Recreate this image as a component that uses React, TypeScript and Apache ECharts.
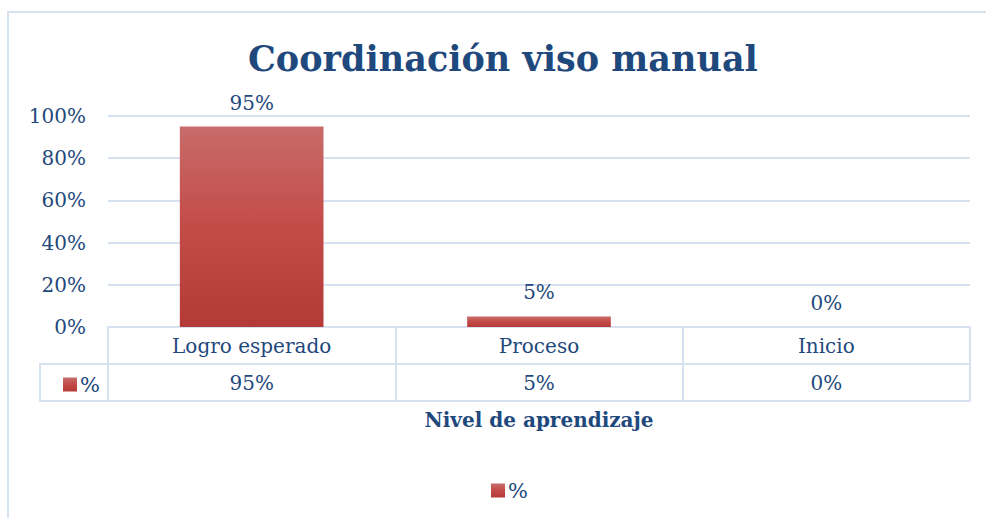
import React, { useEffect, useRef } from "react";
import * as echarts from "echarts";

const titleText = "Coordinación viso manual";
const categories = ["Logro esperado", "Proceso", "Inicio"];
const seriesName = "%";
const values = [0.95, 0.05, 0];
const axisName = "Nivel de aprendizaje";

const FONT = "DejaVu Serif";
const TEXT = "#1F497D";
const LINE = "#D7E2F1";

export default function App() {
  const ref = useRef<HTMLDivElement>(null);
  useEffect(() => {
    const chart = echarts.init(ref.current!, null, { renderer: "svg" });
    const pct = (v: number) => `${Math.round(v * 100)}%`;
    const barColor = new echarts.graphic.LinearGradient(0, 0, 0, 1, [
      { offset: 0, color: "#C86C6A" },
      { offset: 0.5, color: "#C34B48" },
      { offset: 1, color: "#B33A37" },
    ]);
    chart.setOption({
      animation: false,
      backgroundColor: "#ffffff",
      textStyle: { fontFamily: FONT, color: TEXT },
      title: {
        text: titleText,
        left: 243,
        top: 36,
        textStyle: { fontFamily: FONT, fontSize: 35, fontWeight: "bold", color: TEXT },
      },
      legend: [
        {
          data: [seriesName],
          left: 486,
          top: 475,
          icon: "rect",
          itemWidth: 14,
          itemHeight: 14,
          itemGap: 4,
          textStyle: { fontFamily: FONT, fontSize: 21, color: TEXT, padding: [0, 0, 0, -2] },
        },
        {
          data: [seriesName],
          left: 58,
          top: 369,
          icon: "rect",
          itemWidth: 14,
          itemHeight: 14,
          textStyle: { fontFamily: FONT, fontSize: 21, color: TEXT, padding: [0, 0, 0, -2] },
        },
      ],
      grid: { left: 108, right: 16, top: 116, bottom: 191, containLabel: false },
      xAxis: {
        type: "category",
        data: categories,
        name: axisName,
        nameLocation: "middle",
        nameGap: 83,
        nameTextStyle: { fontFamily: FONT, fontSize: 20, fontWeight: "bold", color: TEXT },
        axisLine: { show: true, lineStyle: { color: LINE, width: 2 } },
        axisTick: { show: true, alignWithLabel: false, length: 74, lineStyle: { color: LINE, width: 2 } },
        axisLabel: {
          margin: 0,
          verticalAlign: "top",
          formatter: (name: string) => {
            const i = categories.indexOf(name);
            return `{a|${name}}\n{a|${pct(values[i])}}`;
          },
          rich: {
            a: { fontFamily: FONT, fontSize: 20, color: TEXT, lineHeight: 37, height: 37 },
          },
        },
      },
      yAxis: {
        type: "value",
        min: 0,
        max: 1,
        interval: 0.2,
        axisLine: { show: false },
        axisTick: { show: false },
        axisLabel: {
          margin: 22,
          fontFamily: FONT,
          fontSize: 20,
          color: TEXT,
          formatter: (v: number) => pct(v),
        },
        splitLine: { lineStyle: { color: LINE, width: 2 } },
      },
      series: [
        {
          name: seriesName,
          type: "bar",
          data: values,
          barWidth: "50%",
          itemStyle: { color: barColor },
          label: {
            show: true,
            position: "top",
            distance: 14,
            fontFamily: FONT,
            fontSize: 20,
            color: TEXT,
            formatter: (p: any) => pct(p.value),
          },
        },
      ],
      graphic: [
        {
          type: "rect",
          shape: { x: 8, y: 12, width: 1200, height: 800 },
          style: { fill: "none", stroke: LINE, lineWidth: 2 },
          silent: true,
          z: -1,
        },
        {
          type: "line",
          shape: { x1: 40, y1: 364, x2: 970, y2: 364 },
          style: { stroke: LINE, lineWidth: 2 },
          silent: true,
        },
        {
          type: "line",
          shape: { x1: 40, y1: 401, x2: 971, y2: 401 },
          style: { stroke: LINE, lineWidth: 2 },
          silent: true,
        },
        {
          type: "line",
          shape: { x1: 40, y1: 363, x2: 40, y2: 402 },
          style: { stroke: LINE, lineWidth: 2 },
          silent: true,
        },
      ],
    });
    return () => chart.dispose();
  }, []);
  return (
    <div
      ref={ref}
      style={{ position: "fixed", left: 0, top: 0, width: 986, height: 518 }}
    />
  );
}
